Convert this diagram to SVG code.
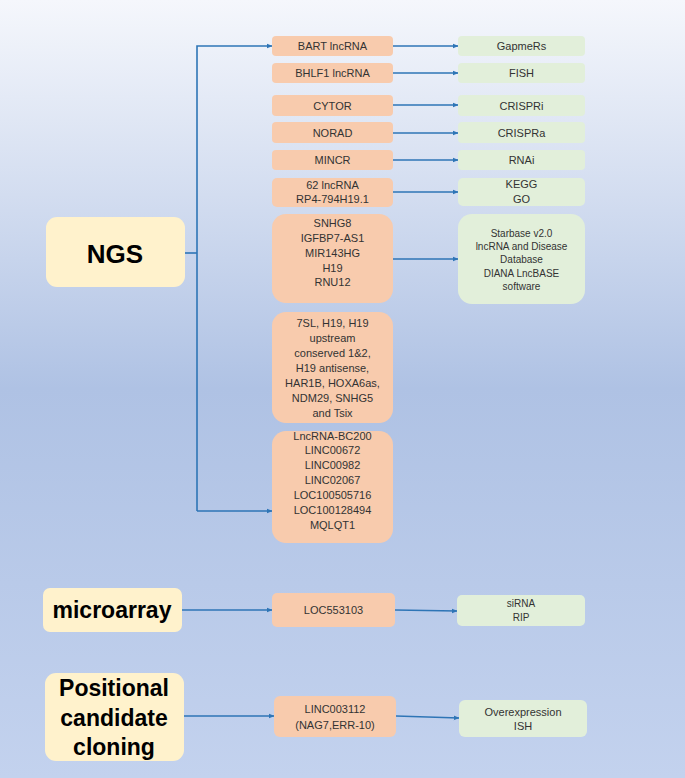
<svg xmlns="http://www.w3.org/2000/svg" width="685" height="778" viewBox="0 0 685 778">
<defs>
<linearGradient id="bg" x1="0" y1="0" x2="0" y2="1">
<stop offset="0" stop-color="#f5f7fc"/>
<stop offset="0.25" stop-color="#d3ddf0"/>
<stop offset="0.5" stop-color="#afc2e4"/>
<stop offset="1" stop-color="#c3d2ee"/>
</linearGradient>
<marker id="ah" viewBox="0 0 10 10" refX="9" refY="5" markerWidth="6" markerHeight="6" markerUnits="userSpaceOnUse" orient="auto">
<path d="M0,1 L10,5 L0,9 z" fill="#2e75b6"/>
</marker>
<style>
.src{fill:#fff2cc}
.mid{fill:#f8cbad}
.out{fill:#e2efda}
.big{font-family:"Liberation Sans",Arial,sans-serif;font-weight:bold;fill:#000;text-anchor:middle}
.t{font-family:"Liberation Sans",Arial,sans-serif;font-size:11px;fill:#333;text-anchor:middle}
.s{font-family:"Liberation Sans",Arial,sans-serif;font-size:10px;fill:#333;text-anchor:middle}
.c{fill:none;stroke:#2e75b6;stroke-width:1.6}
.a{fill:none;stroke:#2e75b6;stroke-width:1.6;marker-end:url(#ah)}
</style>
</defs>
<rect width="685" height="778" fill="url(#bg)"/>

<g id="connectors">
<polyline class="c" points="185,253 197,253"/>
<polyline class="a" points="197,511 197,46 272,46"/>
<polyline class="a" points="197,511 272,511"/>
<line class="a" x1="393" y1="46" x2="458" y2="46"/>
<line class="a" x1="393" y1="73" x2="458" y2="73"/>
<line class="a" x1="393" y1="105" x2="458" y2="105"/>
<line class="a" x1="393" y1="133" x2="458" y2="133"/>
<line class="a" x1="393" y1="160" x2="458" y2="160"/>
<line class="a" x1="393" y1="192" x2="458" y2="192"/>
<line class="a" x1="393" y1="259" x2="458" y2="259"/>
<line class="a" x1="182" y1="610" x2="272" y2="610"/>
<line class="a" x1="395" y1="610" x2="457" y2="611"/>
<line class="a" x1="184" y1="716" x2="274" y2="716"/>
<line class="a" x1="396" y1="716" x2="459" y2="718"/>
</g>

<g id="ngs"><rect class="src" x="46" y="217" width="139" height="70" rx="11"/><text class="big" x="115" y="263" font-size="26">NGS</text></g>
<g id="microarray"><rect class="src" x="43" y="588" width="139" height="44" rx="7"/><text class="big" x="112" y="618" font-size="23">microarray</text></g>
<g id="positional"><rect class="src" x="45" y="673" width="139" height="88" rx="11"/>
<text class="big" font-size="23"><tspan x="114" y="696">Positional</tspan><tspan x="114" y="726">candidate</tspan><tspan x="114" y="755">cloning</tspan></text></g>

<g id="bart"><rect class="mid" x="272" y="36" width="121" height="20" rx="4"/><text class="t" x="332.5" y="50">BART lncRNA</text></g>
<g id="bhlf1"><rect class="mid" x="272" y="63" width="121" height="20" rx="4"/><text class="t" x="332.5" y="77">BHLF1 lncRNA</text></g>
<g id="cytor"><rect class="mid" x="272" y="95" width="121" height="21" rx="4"/><text class="t" x="332.5" y="109.5">CYTOR</text></g>
<g id="norad"><rect class="mid" x="272" y="122" width="121" height="21" rx="4"/><text class="t" x="332.5" y="136.5">NORAD</text></g>
<g id="mincr"><rect class="mid" x="272" y="150" width="121" height="20" rx="4"/><text class="t" x="332.5" y="164">MINCR</text></g>
<g id="lnc62"><rect class="mid" x="272" y="178" width="121" height="29" rx="5"/><text class="t"><tspan x="332.5" y="189">62 lncRNA</tspan><tspan x="332.5" y="203">RP4-794H19.1</tspan></text></g>
<g id="snhg8"><rect class="mid" x="272" y="214" width="121" height="89" rx="14"/><text class="t"><tspan x="332.5" y="227">SNHG8</tspan><tspan x="332.5" y="242">IGFBP7-AS1</tspan><tspan x="332.5" y="257">MIR143HG</tspan><tspan x="332.5" y="272">H19</tspan><tspan x="332.5" y="286">RNU12</tspan></text></g>
<g id="sevensl"><rect class="mid" x="272" y="312" width="121" height="111" rx="14"/><text class="t"><tspan x="332.5" y="327">7SL, H19, H19</tspan><tspan x="332.5" y="342">upstream</tspan><tspan x="332.5" y="357">conserved 1&amp;2,</tspan><tspan x="332.5" y="372">H19 antisense,</tspan><tspan x="332.5" y="387">HAR1B, HOXA6as,</tspan><tspan x="332.5" y="402">NDM29, SNHG5</tspan><tspan x="332.5" y="417">and Tsix</tspan></text></g>
<g id="bc200"><rect class="mid" x="272" y="431" width="121" height="112" rx="14"/><text class="t"><tspan x="332.5" y="440">LncRNA-BC200</tspan><tspan x="332.5" y="454">LINC00672</tspan><tspan x="332.5" y="469">LINC00982</tspan><tspan x="332.5" y="484">LINC02067</tspan><tspan x="332.5" y="499">LOC100505716</tspan><tspan x="332.5" y="514">LOC100128494</tspan><tspan x="332.5" y="529">MQLQT1</tspan></text></g>
<g id="loc553103"><rect class="mid" x="272" y="593" width="123" height="34" rx="5"/><text class="t" x="333.5" y="614">LOC553103</text></g>
<g id="linc003112"><rect class="mid" x="274" y="696" width="122" height="41" rx="6"/><text class="t"><tspan x="335" y="713">LINC003112</tspan><tspan x="335" y="729">(NAG7,ERR-10)</tspan></text></g>

<g id="gapmers"><rect class="out" x="458" y="36" width="127" height="20" rx="4"/><text class="t" x="521.5" y="50">GapmeRs</text></g>
<g id="fish"><rect class="out" x="458" y="63" width="127" height="20" rx="4"/><text class="t" x="521.5" y="77">FISH</text></g>
<g id="crispri"><rect class="out" x="458" y="95" width="127" height="21" rx="4"/><text class="t" x="521.5" y="109.5">CRISPRi</text></g>
<g id="crispra"><rect class="out" x="458" y="122" width="127" height="21" rx="4"/><text class="t" x="521.5" y="136.5">CRISPRa</text></g>
<g id="rnai"><rect class="out" x="458" y="150" width="127" height="20" rx="4"/><text class="t" x="521.5" y="164">RNAi</text></g>
<g id="kegg"><rect class="out" x="458" y="178" width="127" height="28" rx="5"/><text class="t"><tspan x="521.5" y="188">KEGG</tspan><tspan x="521.5" y="203">GO</tspan></text></g>
<g id="starbase"><rect class="out" x="458" y="214" width="127" height="90" rx="14"/><text class="s"><tspan x="521.5" y="236.5">Starbase v2.0</tspan><tspan x="521.5" y="250">lncRNA and Disease</tspan><tspan x="521.5" y="263">Database</tspan><tspan x="521.5" y="276.5">DIANA LncBASE</tspan><tspan x="521.5" y="290">software</tspan></text></g>
<g id="sirna"><rect class="out" x="457" y="595" width="128" height="31" rx="5"/><text class="s"><tspan x="521" y="607">siRNA</tspan><tspan x="521" y="621">RIP</tspan></text></g>
<g id="overexpression"><rect class="out" x="459" y="700" width="128" height="37" rx="6"/><text class="t"><tspan x="523" y="716">Overexpression</tspan><tspan x="523" y="730">ISH</tspan></text></g>
</svg>
